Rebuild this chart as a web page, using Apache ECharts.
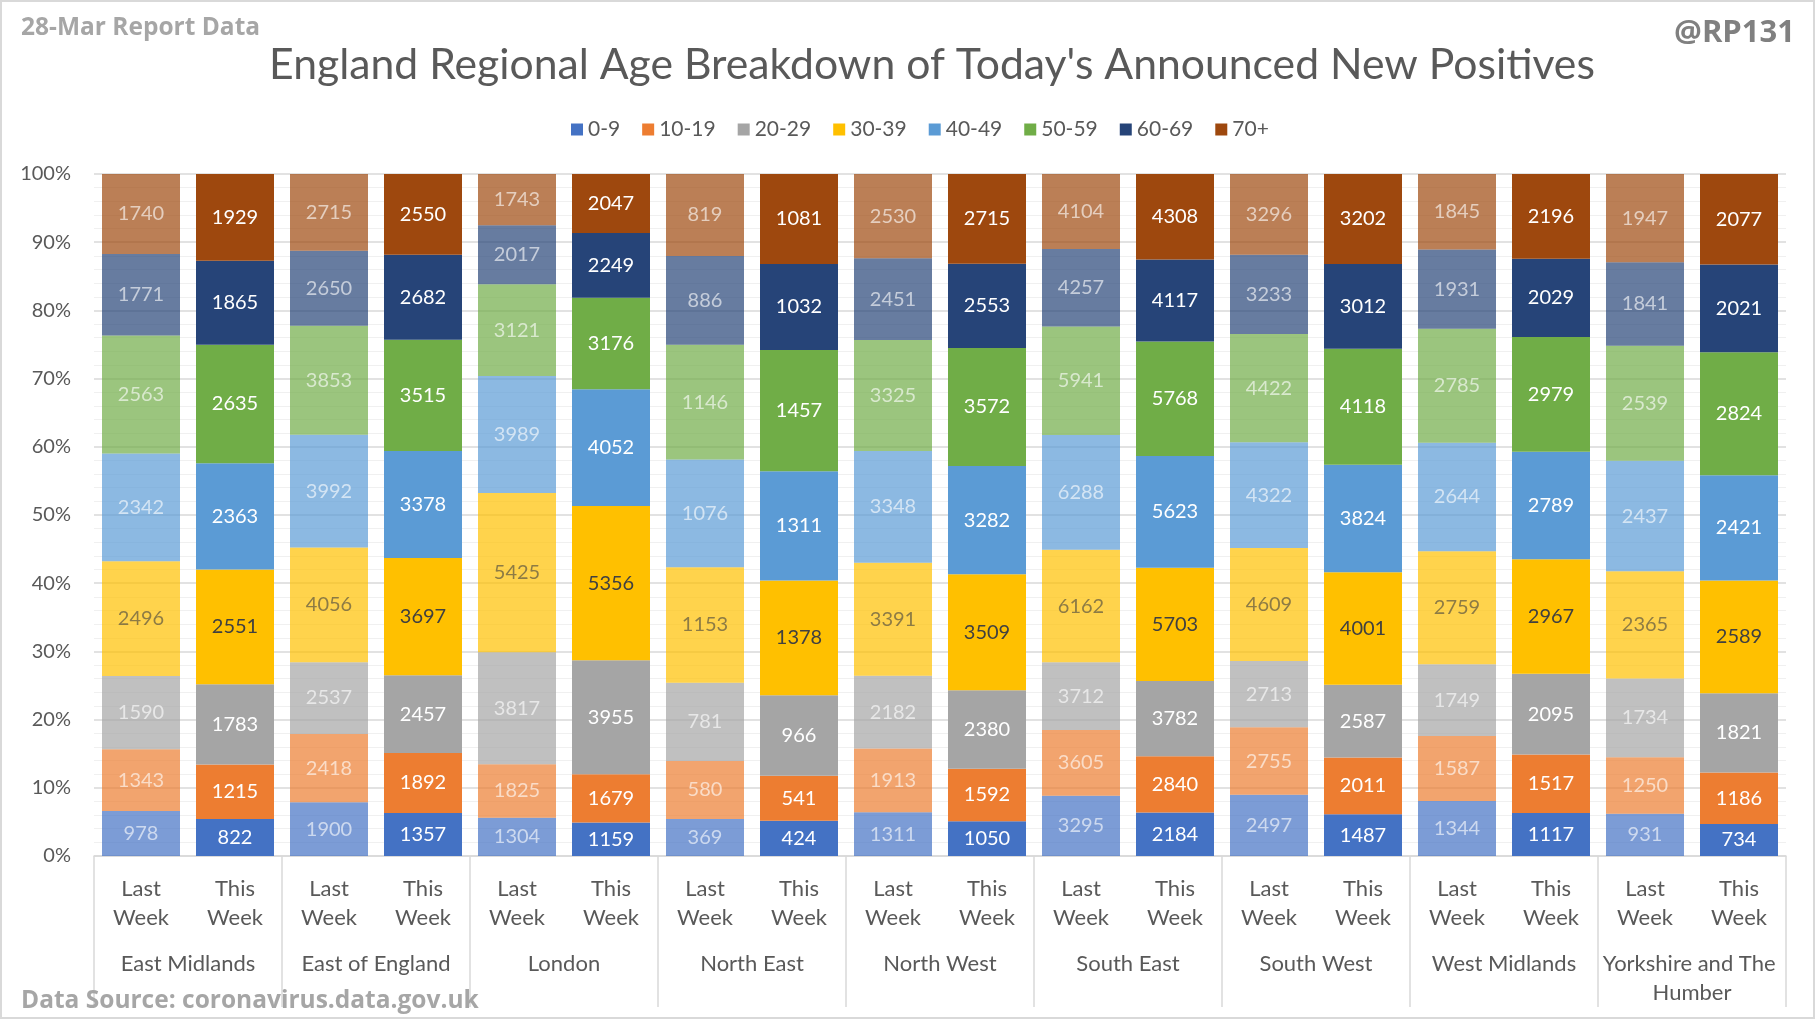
<!DOCTYPE html>
<html>
<head>
<meta charset="utf-8">
<script src="https://cdn.jsdelivr.net/npm/echarts@6/dist/echarts.min.js"></script>
<style>
html,body{margin:0;padding:0;background:#fff;}
#chart{width:1816px;height:1022px;}
</style>
</head>
<body>
<div id="chart"></div>
<script>
const regions = ['East Midlands','East of England','London','North East','North West','South East','South West','West Midlands','Yorkshire and The Humber'];
const periods = ['Last\nWeek','This\nWeek'];
const ageGroups = ['0-9','10-19','20-29','30-39','40-49','50-59','60-69','70+'];
// Values per age group, columns: EM L, EM T, EoE L, EoE T, Lon L, Lon T, NE L, NE T, NW L, NW T, SE L, SE T, SW L, SW T, WM L, WM T, YH L, YH T
const age0_9   = [978, 822, 1900, 1357, 1304, 1159, 369, 424, 1311, 1050, 3295, 2184, 2497, 1487, 1344, 1117, 931, 734];
const age10_19 = [1343, 1215, 2418, 1892, 1825, 1679, 580, 541, 1913, 1592, 3605, 2840, 2755, 2011, 1587, 1517, 1250, 1186];
const age20_29 = [1590, 1783, 2537, 2457, 3817, 3955, 781, 966, 2182, 2380, 3712, 3782, 2713, 2587, 1749, 2095, 1734, 1821];
const age30_39 = [2496, 2551, 4056, 3697, 5425, 5356, 1153, 1378, 3391, 3509, 6162, 5703, 4609, 4001, 2759, 2967, 2365, 2589];
const age40_49 = [2342, 2363, 3992, 3378, 3989, 4052, 1076, 1311, 3348, 3282, 6288, 5623, 4322, 3824, 2644, 2789, 2437, 2421];
const age50_59 = [2563, 2635, 3853, 3515, 3121, 3176, 1146, 1457, 3325, 3572, 5941, 5768, 4422, 4118, 2785, 2979, 2539, 2824];
const age60_69 = [1771, 1865, 2650, 2682, 2017, 2249, 886, 1032, 2451, 2553, 4257, 4117, 3233, 3012, 1931, 2029, 1841, 2021];
const age70p   = [1740, 1929, 2715, 2550, 1743, 2047, 819, 1081, 2530, 2715, 4104, 4308, 3296, 3202, 1845, 2196, 1947, 2077];
const yTicks = [0,10,20,30,40,50,60,70,80,90,100];

const raw = [age0_9, age10_19, age20_29, age30_39, age40_49, age50_59, age60_69, age70p];
const colors = ['#4472C4','#ED7D31','#A5A5A5','#FFC000','#5B9BD5','#70AD47','#264478','#9E480E'];

const xLabels = [];
regions.forEach(() => periods.forEach(p => xLabels.push(p)));
const totals = xLabels.map((_, i) => raw.reduce((s, arr) => s + arr[i], 0));

const series = raw.map((arr, si) => ({
  name: ageGroups[si],
  type: 'bar',
  stack: 'total',
  barWidth: 78,
  itemStyle: { color: colors[si] },
  emphasis: { disabled: true },
  label: {
    show: true,
    position: 'inside',
    fontFamily: 'Lato',
    fontSize: 20,
    formatter: p => String(arr[p.dataIndex])
  },
  data: arr.map((v, i) => {
    const last = i % 2 === 0;
    const dark = si === 3;
    return {
      value: v / totals[i] * 100,
      itemStyle: { opacity: last ? 0.7 : 1 },
      label: { color: dark ? (last ? 'rgba(64,64,64,0.85)' : '#404040') : (last ? 'rgba(255,255,255,0.88)' : '#ffffff') }
    };
  })
}));

const chart = echarts.init(document.getElementById('chart'));
chart.setOption({
  animation: false,
  backgroundColor: '#ffffff',
  textStyle: { fontFamily: 'Lato' },
  legend: {
    data: ageGroups,
    left: 566,
    top: 114,
    icon: 'rect',
    itemWidth: 12,
    itemHeight: 12,
    itemGap: 22,
    selectedMode: false,
    textStyle: { fontFamily: 'Lato', fontSize: 21, color: '#595959' }
  },
  grid: { left: 94, right: 30, top: 174, bottom: 166, containLabel: false },
  xAxis: [
    {
      type: 'category',
      data: xLabels,
      axisLine: { show: true, lineStyle: { color: '#d9d9d9', width: 1.5 } },
      axisTick: { show: false },
      axisLabel: { interval: 0, margin: 18, fontFamily: 'Lato', fontSize: 22, lineHeight: 29, color: '#595959' }
    },
    {
      type: 'category',
      data: regions,
      position: 'bottom',
      axisLine: { show: false },
      axisTick: { show: true, interval: 0, length: 151, lineStyle: { color: '#d9d9d9', width: 1.5 } },
      axisLabel: { interval: 0, margin: 93, fontFamily: 'Lato', fontSize: 22, lineHeight: 29, color: '#595959', width: 186, overflow: 'break', align: 'center' }
    }
  ],
  yAxis: {
    type: 'value',
    min: yTicks[0],
    max: yTicks[yTicks.length - 1],
    interval: 10,
    axisLine: { show: false },
    axisTick: { show: false },
    axisLabel: { margin: 23, fontFamily: 'Lato', fontSize: 20, color: '#595959', formatter: '{value}%' },
    splitLine: { show: true, lineStyle: { color: '#d9d9d9', width: 1.5 } },
    minorTick: { show: false, splitNumber: 5 },
    minorSplitLine: { show: true, lineStyle: { color: '#f0f0f0', width: 1 } }
  },
  series: series,
  graphic: [
    { type: 'rect', silent: true, shape: { x: 1, y: 1, width: 1813, height: 1017 }, style: { fill: 'none', stroke: '#d9d9d9', lineWidth: 2 } },
    { type: 'text', x: 932, y: 65, style: { text: "England Regional Age Breakdown of Today's Announced New Positives", fontFamily: 'Lato', fontSize: 42.7, fill: '#595959', align: 'center', verticalAlign: 'middle' } },
    { type: 'text', x: 21, y: 28, style: { text: '28-Mar Report Data', fontFamily: 'Open Sans', fontWeight: 'bold', fontSize: 24.5, fill: '#a6a6a6', align: 'left', verticalAlign: 'middle' } },
    { type: 'text', x: 1795, y: 33, style: { text: '@RP131', fontFamily: 'Open Sans', fontWeight: 'bold', fontSize: 31, fill: '#808080', align: 'right', verticalAlign: 'middle' } },
    { type: 'text', x: 21, y: 1001, z: 100, style: { text: 'Data Source: coronavirus.data.gov.uk', fontFamily: 'Open Sans', fontWeight: 'bold', fontSize: 24.5, fill: '#a6a6a6', align: 'left', verticalAlign: 'middle' } }
  ]
});
</script>
</body>
</html>
